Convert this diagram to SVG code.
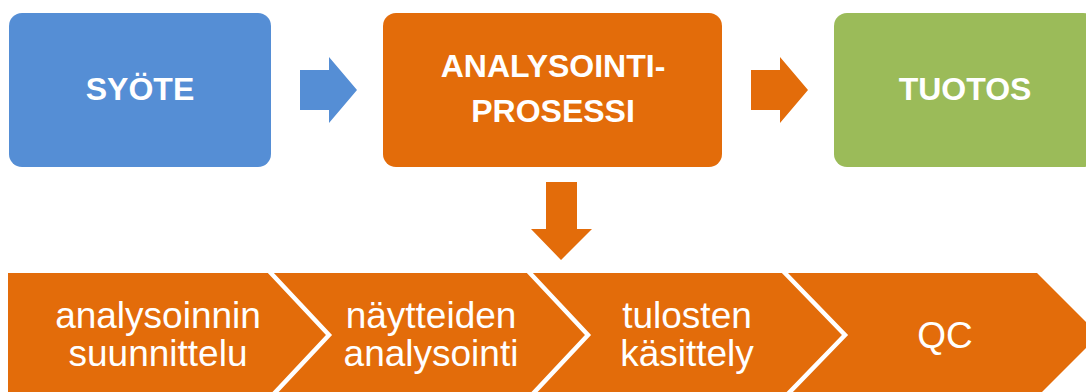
<svg xmlns="http://www.w3.org/2000/svg" width="1086" height="392" viewBox="0 0 1086 392">
  <style>
    .box-title { font-family: "Liberation Sans", Arial, sans-serif; font-weight: bold; font-size: 32px; fill: #ffffff; text-anchor: middle; }
    .step { font-family: "Liberation Sans", Arial, sans-serif; font-size: 37px; fill: #ffffff; text-anchor: middle; }
    .orange { fill: #E36C0A; }
    .sep { fill: none; stroke: #ffffff; stroke-width: 4.5; stroke-linejoin: miter; }
  </style>
  <rect width="1086" height="392" fill="#ffffff"/>

  <g id="syote">
    <rect x="9" y="13" width="262" height="154" rx="13" ry="13" fill="#558ED5"/>
    <text class="box-title" x="140" y="100">SYÖTE</text>
  </g>

  <g id="analysointiprosessi">
    <rect x="383" y="13" width="339" height="154" rx="13" ry="13" class="orange"/>
    <text class="box-title" x="553" y="77">ANALYSOINTI-</text>
    <text class="box-title" x="553" y="122">PROSESSI</text>
  </g>

  <g id="tuotos">
    <rect x="834" y="13" width="262" height="154" rx="13" ry="13" fill="#9BBB59"/>
    <text class="box-title" x="965" y="100">TUOTOS</text>
  </g>

  <g id="connectors">
    <polygon points="300,70 329,70 329,57 357,90 329,123 329,110 300,110" fill="#558ED5"/>
    <polygon points="751,70 780,70 780,57 808,90 780,123 780,110 751,110" class="orange"/>
    <polygon points="546,182 577,182 577,229 592,229 561,260 531,229 546,229" class="orange"/>
  </g>

  <g id="step1">
    <polygon points="8,273 269,273 329,335 269,397 8,397" class="orange"/>
    <text class="step" x="158" y="328">analysoinnin</text>
    <text class="step" x="158" y="366">suunnittelu</text>
  </g>

  <g id="step2">
    <polygon points="269,273 528,273 588,335 528,397 269,397 329,335" class="orange"/>
    <polyline points="269,271 329,335 269,399" class="sep"/>
    <text class="step" x="431" y="328">näytteiden</text>
    <text class="step" x="431" y="366">analysointi</text>
  </g>

  <g id="step3">
    <polygon points="528,273 783,273 845,335 783,397 528,397 588,335" class="orange"/>
    <polyline points="528,271 588,335 528,399" class="sep"/>
    <text class="step" x="687" y="328">tulosten</text>
    <text class="step" x="687" y="366">käsittely</text>
  </g>

  <g id="step4">
    <polygon points="783,273 1037,273 1099,335 1037,397 783,397 845,335" class="orange"/>
    <polyline points="783,271 845,335 783,399" class="sep"/>
    <text class="step" x="945" y="348">QC</text>
  </g>
</svg>
